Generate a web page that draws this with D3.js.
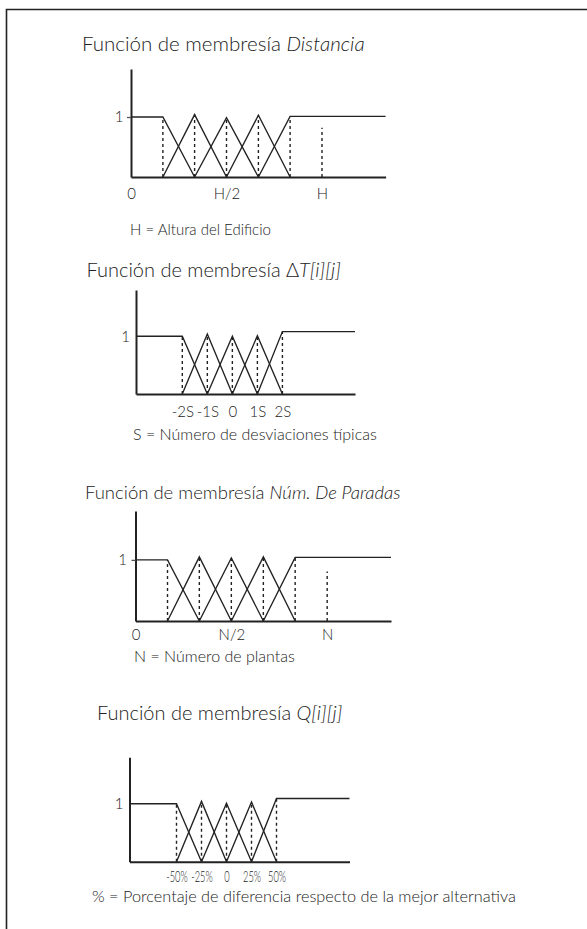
<!DOCTYPE html>
<html>
<head>
<meta charset="utf-8">
<script src="https://cdn.jsdelivr.net/npm/d3@7"></script>
<style>
  body { margin: 0; background: #fff; }
  text { font-family: Lato, "Open Sans", sans-serif; font-weight: 300; fill: #222; }
</style>
</head>
<body>
<div id="chart"></div>
<script>
// Knots of each membership partition (x) and the height reached at each knot
const distKnots = [0, 0.167, 0.333, 0.5, 0.667, 0.833, 1.333];
const distPeaks = [1, 1, 1.04, 0.99, 1.03, 1.01, 1.01];
const distExtra = [1];          // extra dashed marker at H
const distExtraH = [0.82];
const distTicks = [0, 0.5, 1];
const distLabels = ["0", "H/2", "H"];

const dtKnots = [-3.85, -2, -1, 0, 1, 2, 4.9];
const dtPeaks = [1, 1, 1.04, 1.0, 1.01, 1.08, 1.08];
const dtTicks = [-2, -1, 0, 1, 2];
const dtLabels = ["-2S", "-1S", "0", "1S", "2S"];

const stopKnots = [0, 0.167, 0.333, 0.5, 0.667, 0.833, 1.333];
const stopPeaks = [1, 1, 1.05, 1.03, 1.05, 1.04, 1.04];
const stopExtra = [1];
const stopExtraH = [0.81];
const stopTicks = [0, 0.5, 1];
const stopLabels = ["0", "N/2", "N"];

const qKnots = [-97, -50, -25, 0, 25, 50, 123];
const qPeaks = [1, 1, 1.04, 1.01, 1.03, 1.09, 1.09];
const qTicks = [-50, -25, 0, 25, 50];
const qLabels = ["-50%", "-25%", "0", "25%", "50%"];

const yMax = 1.8;

const W = 587, H = 929;
const svg = d3.select("#chart").append("svg")
    .attr("width", W)
    .attr("height", H);

// frame (top and left only, right side is cut off)
svg.append("path")
    .attr("d", `M6.5,${H} V9.5 H${W}`)
    .attr("fill", "none")
    .attr("stroke", "#222")
    .attr("stroke-width", 1.6);

const panels = [
    {
        knots: distKnots, peaks: distPeaks, extra: distExtra, extraH: distExtraH,
        ticks: distTicks, labels: distLabels,
        left: 131, right: 385.6, base: 177, top: 69,
        tick: 4, yPad: 3.5, xPad: 11, labelSize: 15, labelScale: 1,
        title: ["Función de membresía ", "Distancia"], titleX: 82, titleY: 51, titleSize: 20.5,
        note: "H = Altura del Edificio", noteX: 130, noteY: 235, noteSize: 15
    },
    {
        knots: dtKnots, peaks: dtPeaks, extra: [], extraH: [],
        ticks: dtTicks, labels: dtLabels,
        left: 136, right: 355, base: 394, top: 290,
        tick: 0, yPad: 6, xPad: 12, labelSize: 15, labelScale: 1,
        title: ["Función de membresía Δ", "T[i][j]"], titleX: 86.5, titleY: 277, titleSize: 20,
        note: "S = Número de desviaciones típicas", noteX: 133, noteY: 440, noteSize: 16
    },
    {
        knots: stopKnots, peaks: stopPeaks, extra: stopExtra, extraH: stopExtraH,
        ticks: stopTicks, labels: stopLabels,
        left: 135.5, right: 391, base: 621, top: 511,
        tick: 4, yPad: 4.5, xPad: 8.5, labelSize: 15, labelScale: 1,
        title: ["Función de membresía ", "Núm. De Paradas"], titleX: 85, titleY: 499, titleSize: 18.5,
        note: "N = Número de plantas", noteX: 134, noteY: 662, noteSize: 16
    },
    {
        knots: qKnots, peaks: qPeaks, extra: [], extraH: [],
        ticks: qTicks, labels: qLabels,
        left: 129.5, right: 349.5, base: 861.7, top: 757.3,
        tick: 0, yPad: 6, xPad: 10, labelSize: 15, labelScale: 0.62,
        title: ["Función de membresía ", "Q[i][j]"], titleX: 97, titleY: 720, titleSize: 20,
        note: "% = Porcentaje de diferencia respecto de la mejor alternativa", noteX: 92, noteY: 902, noteSize: 16.3
    }
];

panels.forEach(drawPanel);

function drawPanel(p) {
    const x = d3.scaleLinear()
        .domain([p.knots[0], p.knots[p.knots.length - 1]])
        .range([p.left, p.right]);
    const y = d3.scaleLinear()
        .domain([0, yMax])
        .range([p.base, p.top]);

    const g = svg.append("g");

    // title, with the variable name in italics
    const t = g.append("text")
        .attr("x", p.titleX)
        .attr("y", p.titleY)
        .style("font-size", p.titleSize + "px");
    t.append("tspan").text(p.title[0]);
    t.append("tspan").style("font-style", "italic").text(p.title[1]);

    // five overlapping sets built from consecutive knots
    const sets = d3.range(5).map(i => [0, 1, 2].map(j => {
        const k = i + j;
        let v = p.peaks[k];
        if (i > 0 && j === 0) v = 0;
        if (i < 4 && j === 2) v = 0;
        return [p.knots[k], v];
    }));

    const line = d3.line()
        .x(d => x(d[0]))
        .y(d => y(d[1]));

    g.selectAll(".set")
        .data(sets)
        .enter()
        .append("path")
        .attr("class", "set")
        .attr("d", line)
        .attr("fill", "none")
        .attr("stroke", "#222")
        .attr("stroke-width", 1.35)
        .attr("stroke-linejoin", "miter");

    // dashed drop lines at each inner knot
    const drops = p.knots.slice(1, 6).map((k, i) => [k, p.peaks[i + 1]])
        .concat(p.extra.map((k, i) => [k, p.extraH[i]]));

    g.selectAll(".drop")
        .data(drops)
        .enter()
        .append("line")
        .attr("class", "drop")
        .attr("x1", d => x(d[0]))
        .attr("x2", d => x(d[0]))
        .attr("y1", d => y(0))
        .attr("y2", d => y(d[1]))
        .attr("stroke", "#222")
        .attr("stroke-width", 1.4)
        .attr("stroke-dasharray", "3,3");

    // x axis
    const xAxis = g.append("g")
        .attr("transform", `translate(0,${y(0)})`)
        .call(d3.axisBottom(x).tickValues(p.ticks)
            .tickFormat((d, i) => p.labels[i])
            .tickSize(0).tickSizeOuter(0).tickPadding(p.xPad));
    xAxis.select(".domain").attr("stroke", "#222").attr("stroke-width", 2);
    xAxis.selectAll("text")
        .style("font-family", "Lato, sans-serif")
        .style("font-weight", 300)
        .style("font-size", p.labelSize + "px")
        .attr("fill", "#222")
        .attr("transform", `scale(${p.labelScale},1)`);

    // y axis
    const yAxis = g.append("g")
        .attr("transform", `translate(${x(p.knots[0])},0)`)
        .call(d3.axisLeft(y).tickValues([1]).tickFormat(() => "1")
            .tickSize(p.tick).tickSizeOuter(0).tickPadding(p.yPad));
    yAxis.select(".domain").attr("stroke", "#222").attr("stroke-width", 2);
    yAxis.selectAll(".tick line").attr("stroke", "#555").attr("stroke-width", 1.3);
    yAxis.selectAll("text")
        .style("font-family", "Lato, sans-serif")
        .style("font-weight", 300)
        .style("font-size", "15px")
        .attr("fill", "#555");

    // note under the chart
    g.append("text")
        .attr("x", p.noteX)
        .attr("y", p.noteY)
        .style("font-size", p.noteSize + "px")
        .text(p.note);
}
</script>
</body>
</html>
